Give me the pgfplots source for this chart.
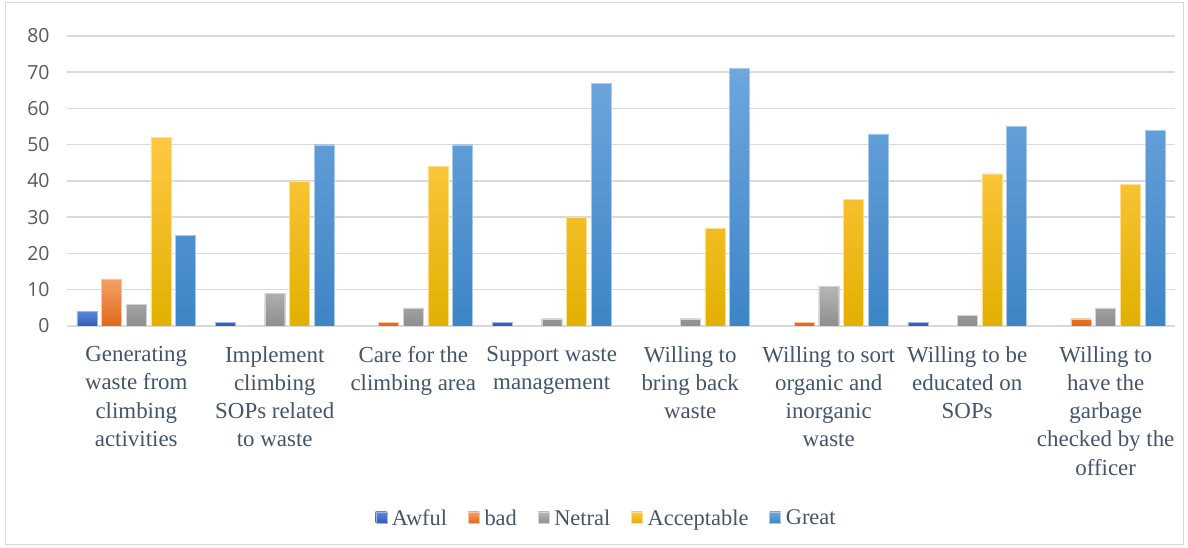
\documentclass[border=0pt]{standalone}
\usepackage{fontspec}
\setmainfont{Liberation Serif}
\newfontfamily\serifc{Liberation Serif}
\newfontfamily\ticksans{Open Sans}
\usepackage{pgfplots}
\pgfplotsset{compat=1.18}
\definecolor{gridc}{HTML}{D9D9D9}
\definecolor{txtc}{HTML}{44546A}
\definecolor{ytxt}{HTML}{595959}
\definecolor{aTop}{HTML}{5B88D8}\definecolor{aBot}{HTML}{2F5DB8}
\definecolor{bTop}{HTML}{F4A068}\definecolor{bBot}{HTML}{E2691A}
\definecolor{nTop}{HTML}{B6B6B6}\definecolor{nBot}{HTML}{8E8E8E}
\definecolor{cTop}{HTML}{FFC843}\definecolor{cBot}{HTML}{E2B000}
\definecolor{gTop}{HTML}{6EA6DE}\definecolor{gBot}{HTML}{3D85C6}
\begin{document}
\begin{tikzpicture}[x=1bp,y=1bp]
\path[use as bounding box, fill=white] (0,0) rectangle (1188,548);
\draw[gridc, line width=1bp] (5.5,3.5) rectangle (1183,545);
\begin{axis}[
  at={(67bp,222bp)}, anchor=south west, scale only axis,
  width=1108bp, height=290bp,
  ymin=0, ymax=80, ytick={0,10,...,80},
  yticklabels={{\ticksans 0},{\ticksans 10},{\ticksans 20},{\ticksans 30},{\ticksans 40},{\ticksans 50},{\ticksans 60},{\ticksans 70},{\ticksans 80}},
  xmin=-0.5, xmax=7.5, xtick={0,...,7},
  xticklabels={{Generating\\waste from\\climbing\\activities},
    {Implement\\climbing\\SOPs related\\to waste},
    {Care for the\\climbing area},
    {Support waste\\management},
    {Willing to\\bring back\\waste},
    {Willing to sort\\organic and\\inorganic\\waste},
    {Willing to be\\educated on\\SOPs},
    {Willing to\\have the\\garbage\\checked by the\\officer}},
  xticklabel style={align=center, anchor=north, yshift=-17bp, text=txtc,
    font=\serifc\fontsize{23}{28.3}\selectfont},
  yticklabel style={text=ytxt, font=\fontsize{19.5}{22}\selectfont, xshift=-14bp},
  ybar=4.7bp, bar width=20bp,
  ymajorgrids, grid style={gridc, line width=1.5bp},
  axis line style={draw=none}, major tick length=0pt,
  legend style={at={(0.487,-0.662)}, anchor=center, draw=none, fill=none,
    legend columns=-1, font=\serifc\fontsize{22.5}{26}\selectfont, text=txtc,
    /tikz/every even column/.append style={column sep=19bp},
    /tikz/every odd column/.append style={column sep=3bp},
    inner sep=0pt},
  legend image code/.code={\fill[#1] (0bp,-5bp) rectangle (11bp,6bp);},
]
\addplot[draw=aTop!60!white, line width=0.4bp, top color=aTop, bottom color=aBot] coordinates {(0,4) (1,1) (3,1) (6,1)};
\addlegendentry{Awful}
\addplot[draw=bTop!60!white, line width=0.4bp, top color=bTop, bottom color=bBot] coordinates {(0,13) (2,1) (5,1) (7,2)};
\addlegendentry{bad}
\addplot[draw=nTop!60!white, line width=0.4bp, top color=nTop, bottom color=nBot] coordinates {(0,6) (1,9) (2,5) (3,2) (4,2) (5,11) (6,3) (7,5)};
\addlegendentry{Netral}
\addplot[draw=cTop!60!white, line width=0.4bp, top color=cTop, bottom color=cBot] coordinates {(0,52) (1,40) (2,44) (3,30) (4,27) (5,35) (6,42) (7,39)};
\addlegendentry{Acceptable}
\addplot[draw=gTop!60!white, line width=0.4bp, top color=gTop, bottom color=gBot] coordinates {(0,25) (1,50) (2,50) (3,67) (4,71) (5,53) (6,55) (7,54)};
\addlegendentry{Great}
\end{axis}
\end{tikzpicture}
\end{document}
